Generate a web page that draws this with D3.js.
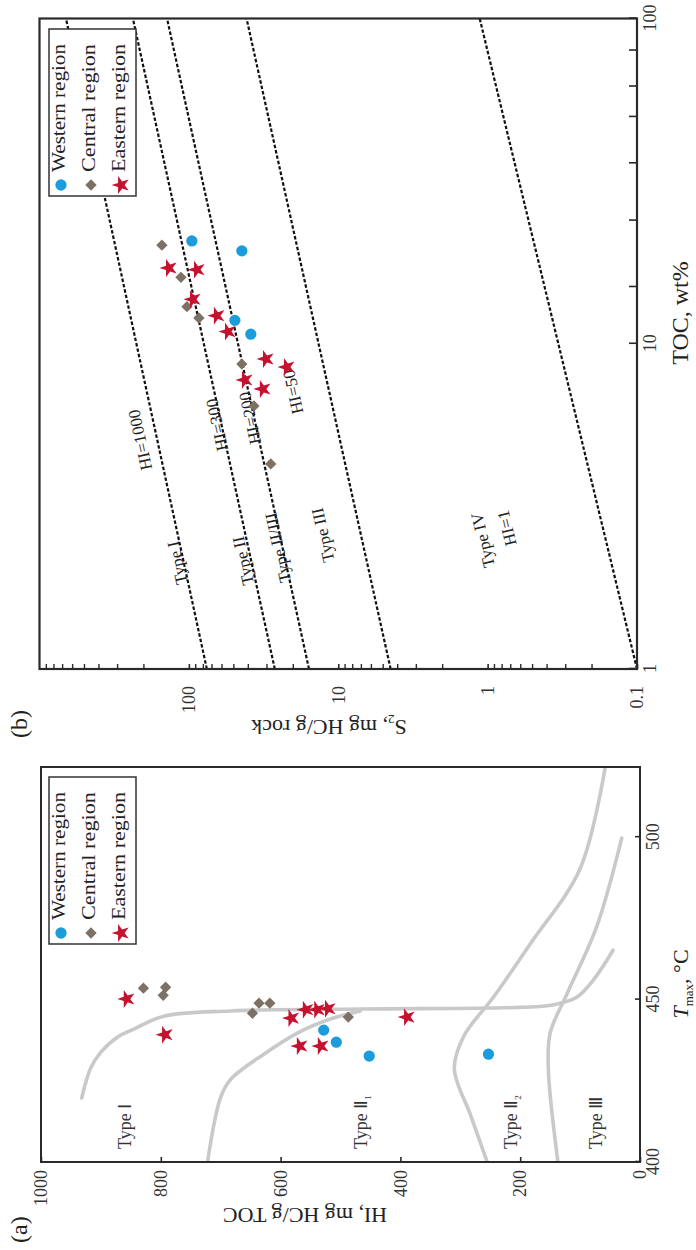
<!DOCTYPE html>
<html><head><meta charset="utf-8">
<script src="https://cdn.jsdelivr.net/npm/d3@7"></script>
<style>body{margin:0;background:#fff}svg{display:block}</style>
</head><body>
<script>
// ---------- Panel (a) data: [Tmax (°C), HI (mg HC/g TOC)] ----------
const tmaxTicks = [400, 450, 500];
const hiTicks = [0, 200, 400, 600, 800, 1000];
const westernA = [[440.6,528],[436.9,507],[432.6,452],[433.2,253]];
const centralA = [[453.5,829],[451.3,796],[453.8,792],[445.8,647],[448.9,636],[448.9,618],[444.6,487]];
const easternA = [[450.2,857],[439.2,793],[444.3,582],[446.9,558],[446.9,539],[447.2,521],[435.7,568],[435.7,533],[444.6,389]];
// boundary curves
const curveTypeI = [[419.7,932],[428.9,917],[433.8,900],[438.5,872],[440.9,845],[444.9,795],[446.5,683],[447.1,462],[447.4,250],[448,158],[448.9,133],[450.8,105],[456,78],[465.2,45]];
const curveTypeII1 = [[400,722],[420,700],[425.5,683],[433.2,628],[439.7,572],[444,517],[446.5,467]];
const curveII1II2 = [[400,255],[414.5,283],[428.7,310],[438.8,294],[450.8,244.5],[467.2,183],[490.3,100],[521.6,58]];
const curveII2III = [[400,137],[428.6,153],[439.7,150],[451.7,122],[472.6,72],[499.7,30.5]];
const typeLabelsA = [["Ⅰ",""],["Ⅱ","1"],["Ⅱ","2"],["Ⅲ",""]];
const typeLabelHI = [850, 455, 205, 63];

// ---------- Panel (b) data: [TOC (wt%), S2 (mg HC/g rock)] ----------
const tocTicks = [1, 10, 100];
const tocMinorTicks = [15, 24, 36, 50, 62, 80];
const s2Ticks = [0.1, 1, 10, 100];
const westernB = [[20.7,95.5],[19.3,44.2],[11.8,49.2],[10.7,38.5]];
const centralB = [[20.1,151.6],[16.0,113],[13.0,103],[12.0,85.7],[8.66,44.2],[6.44,36.7],[4.27,28.3]];
const easternB = [[17.1,136],[16.9,88.3],[13.7,94],[12.2,65],[10.9,54.8],[8.98,30.5],[7.74,42.2],[7.26,32],[8.48,22.1]];
const hiLineNames = ["HI=1000","HI=300","HI=200","HI=50","HI=1"];
const hiLines = [
  [[1,75.8],[100,665]],
  [[1,26.6],[100,237]],
  [[1,15.7],[100,140]],
  [[1,4.46],[100,41.1]],
  [[1,0.1],[100,1.13]]
];
// annotation text, anchor [TOC, S2], index of line used for its tilt
const annotB = [
  ["HI=1000",[5.06,212.7],0],["Type I",[2.12,120],0],
  ["HI=300",[5.63,65],1],["Type II",[2.15,43.5],1],
  ["HI=200",[5.91,39.1],2],["Type II/III",[2.36,25.4],2],
  ["HI=50",[7.11,20.1],3],["Type III",[2.58,12.7],3],
  ["Type IV",[2.49,1.08],4],["HI=1",[2.71,0.746],4]
];
const legendNames = ["Western region","Central region","Eastern region"];
const colors = {w:"#1b9ddb", c:"#7d7165", e:"#c5122f"};

const FONT = "'Liberation Serif','Times New Roman',Times,serif";
const svg = d3.select("body").append("svg").attr("width",696).attr("height",1250)
  .style("font-family",FONT);
svg.append("rect").attr("width",696).attr("height",1250).attr("fill","#fff");
// whole figure is drawn in an unrotated 1250x696 frame and turned -90°
const g = svg.append("g").attr("transform","translate(0,1250) rotate(-90)");

const circleSym = d3.symbol().type(d3.symbolCircle).size(100);
const squareSym = d3.symbol().type(d3.symbolSquare).size(64);
const starSym = d3.symbol().type(d3.symbolStar).size(100);

function drawPoints(parent, data, sx, sy, kind){
  const sel = parent.append("g").selectAll("path").data(data).join("path")
    .attr("transform", d => `translate(${sx(d[0])},${sy(d[1])})` + (kind==="c"?" rotate(45)":""));
  if(kind==="w") sel.attr("d",circleSym()).attr("fill",colors.w);
  if(kind==="c") sel.attr("d",squareSym()).attr("fill",colors.c);
  if(kind==="e") sel.attr("d",starSym()).attr("fill",colors.e);
}
function legend(parent, x0, y0){
  const L = parent.append("g");
  L.append("rect").attr("x",x0).attr("y",y0).attr("width",167).attr("height",87)
    .attr("fill","#fff").attr("stroke","#333").attr("stroke-width",1.5);
  const kinds = ["w","c","e"];
  kinds.forEach((k,i)=>{
    const sym = k==="w"?circleSym():k==="c"?squareSym():starSym();
    L.append("path").attr("d",sym).attr("fill",colors[k])
      .attr("transform",`translate(${x0+11},${y0+12+i*30})`+(k==="c"?" rotate(45)":""));
    L.append("text").attr("x",x0+24).attr("y",y0+16+i*30).attr("font-size",18)
      .attr("textLength",128).attr("lengthAdjust","spacingAndGlyphs")
      .attr("fill","#222").text(legendNames[i]);
  });
}

// ================= Panel (a) =================
const xA = d3.scaleLinear().domain([400,521.6]).range([88,483]);
const yA = d3.scaleLinear().domain([0,1000]).range([640,41]);
const pa = g.append("g");
pa.append("clipPath").attr("id","clipA").append("rect")
  .attr("x",xA(400)).attr("y",yA(1000)).attr("width",xA(521.6)-xA(400)).attr("height",yA(0)-yA(1000));
const lineA = d3.line().x(d=>xA(d[0])).y(d=>yA(d[1])).curve(d3.curveCatmullRom.alpha(0.5));
[curveTypeI, curveTypeII1, curveII1II2, curveII2III].forEach(c=>{
  pa.append("path").attr("d",lineA(c)).attr("fill","none").attr("stroke","#c9c9c9")
    .attr("stroke-width",3.6).attr("stroke-linecap","round").attr("clip-path","url(#clipA)");
});
// type labels
typeLabelsA.forEach((t,i)=>{
  const tx = pa.append("text").attr("x",xA(404)).attr("y",yA(typeLabelHI[i])).attr("font-size",18).attr("fill","#333");
  tx.append("tspan").text("Type "+t[0]);
  if(t[1]) tx.append("tspan").attr("font-size",9).attr("dy",4).text(t[1]);
});
drawPoints(pa, westernA, xA, yA, "w");
drawPoints(pa, centralA, xA, yA, "c");
drawPoints(pa, easternA, xA, yA, "e");
legend(pa, 306, 49);
pa.append("rect").attr("x",xA(400)).attr("y",yA(1000)).attr("width",xA(521.6)-xA(400)).attr("height",yA(0)-yA(1000))
  .attr("fill","none").attr("stroke","#2a2a2a").attr("stroke-width",2);
const axA_x = pa.append("g").attr("transform",`translate(0,${yA(0)})`)
  .call(d3.axisBottom(xA).tickValues(tmaxTicks).tickFormat(d=>String(d)).tickSizeInner(-5).tickSizeOuter(0).tickPadding(6));
const axA_y = pa.append("g").attr("transform",`translate(${xA(400)},0)`)
  .call(d3.axisLeft(yA).tickValues(hiTicks).tickFormat(d=>String(d)).tickSizeInner(-5).tickSizeOuter(0).tickPadding(8));
[axA_x, axA_y].forEach(a=>{
  a.select(".domain").remove();
  a.selectAll("line").attr("stroke","#2a2a2a").attr("stroke-width",1.6);
  a.selectAll("text").attr("font-size",18).attr("font-family",FONT).attr("fill","#333");
});
// axis titles
const tA = pa.append("text").attr("x",266).attr("y",688).attr("text-anchor","middle").attr("font-size",22).attr("fill","#222");
tA.append("tspan").attr("font-style","italic").text("T");
tA.append("tspan").attr("font-size",13).attr("dy",5).text("max");
tA.append("tspan").attr("dy",-5).text(", °C");
pa.append("text").attr("transform","translate(42,305) rotate(-90)").attr("text-anchor","middle")
  .attr("font-size",22).attr("fill","#222").text("HI, mg HC/g TOC");
pa.append("text").attr("x",7).attr("y",27).attr("font-size",24).attr("fill","#222").text("(a)");

// ================= Panel (b) =================
const xB = d3.scaleLog().domain([1,100]).range([581,1231.5]);
const yB = d3.scaleLog().domain([0.1,1000]).range([637,39.5]);
const pb = g.append("g");
pb.append("clipPath").attr("id","clipB").append("rect")
  .attr("x",xB(1)).attr("y",yB(1000)).attr("width",xB(100)-xB(1)).attr("height",yB(0.1)-yB(1000));
const lineB = d3.line().x(d=>xB(d[0])).y(d=>yB(d[1]));
hiLines.forEach(l=>{
  pb.append("path").attr("d",lineB(l)).attr("fill","none").attr("stroke","#111")
    .attr("stroke-width",2.2).attr("stroke-dasharray","3.5,2").attr("clip-path","url(#clipB)");
});
annotB.forEach(a=>{
  const l = hiLines[a[2]];
  const ang = Math.atan2(yB(l[1][1])-yB(l[0][1]), xB(l[1][0])-xB(l[0][0]))*180/Math.PI;
  pb.append("text").attr("transform",`translate(${xB(a[1][0])},${yB(a[1][1])}) rotate(${ang})`)
    .attr("text-anchor","middle").attr("dy","0.35em").attr("font-size",17).attr("fill","#222").text(a[0]);
});
drawPoints(pb, westernB, xB, yB, "w");
drawPoints(pb, centralB, xB, yB, "c");
drawPoints(pb, easternB, xB, yB, "e");
legend(pb, 1054, 49);
pb.append("rect").attr("x",xB(1)).attr("y",yB(1000)).attr("width",xB(100)-xB(1)).attr("height",yB(0.1)-yB(1000))
  .attr("fill","none").attr("stroke","#2a2a2a").attr("stroke-width",2.2);
const axB_x = pb.append("g").attr("transform",`translate(0,${yB(0.1)})`)
  .call(d3.axisBottom(xB).tickValues(tocTicks).tickFormat(d=>String(d)).tickSizeInner(-8).tickSizeOuter(0).tickPadding(6));
// minor TOC ticks
pb.append("g").selectAll("line").data(tocMinorTicks).join("line")
  .attr("x1",d=>xB(d)).attr("x2",d=>xB(d)).attr("y1",yB(0.1)).attr("y2",yB(0.1)-8)
  .attr("stroke","#2a2a2a").attr("stroke-width",1.6);
const axB_y = pb.append("g").attr("transform",`translate(${xB(1)},0)`)
  .call(d3.axisLeft(yB).tickValues(s2Ticks).tickFormat(d=>String(d)).tickSizeInner(-5).tickSizeOuter(0).tickPadding(17));
// minor S2 ticks (2..9 in each decade)
const s2Minor = [];
[0.1,1,10,100].forEach(dec=>{ for(let k=2;k<=9;k++) s2Minor.push(dec*k); });
pb.append("g").selectAll("line").data(s2Minor).join("line")
  .attr("x1",xB(1)).attr("x2",xB(1)+5).attr("y1",d=>yB(d)).attr("y2",d=>yB(d))
  .attr("stroke","#2a2a2a").attr("stroke-width",1.4);
[axB_x, axB_y].forEach(a=>{
  a.select(".domain").remove();
  a.selectAll("line").attr("stroke","#2a2a2a").attr("stroke-width",1.6);
  a.selectAll("text").attr("font-size",18).attr("font-family",FONT).attr("fill","#333");
});
pb.append("text").attr("x",937).attr("y",688).attr("text-anchor","middle").attr("font-size",24).attr("fill","#222").text("TOC, wt%");
const tB = pb.append("text").attr("transform","translate(530,329) rotate(-90)").attr("text-anchor","middle")
  .attr("font-size",22).attr("fill","#222");
tB.append("tspan").text("S");
tB.append("tspan").attr("font-size",13).attr("dy",5).text("2");
tB.append("tspan").attr("dy",-5).text(", mg HC/g rock");
pb.append("text").attr("x",512).attr("y",27).attr("font-size",24).attr("fill","#222").text("(b)");
</script>
</body></html>
